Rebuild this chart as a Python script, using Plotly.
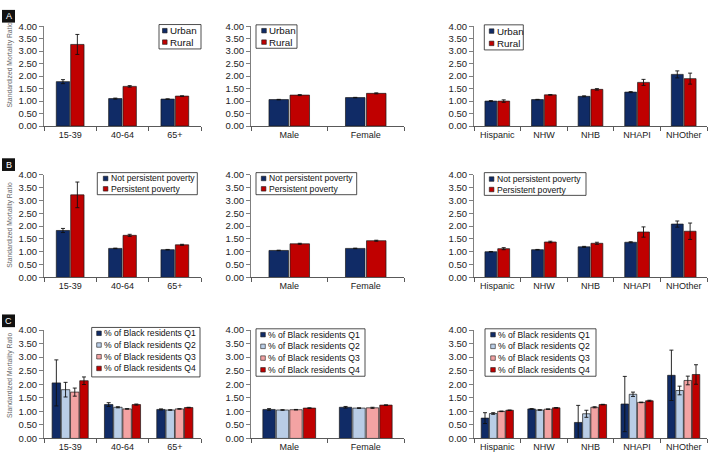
import plotly.graph_objects as go

# ---------------- data ----------------
age_cats = ["15-39", "40-64", "65+"]
sex_cats = ["Male", "Female"]
race_cats = ["Hispanic", "NHW", "NHB", "NHAPI", "NHOther"]

# Row A: Urban / Rural
a_age_urban = [1.78, 1.10, 1.08]
a_age_urban_err = [0.08, 0.02, 0.01]
a_age_rural = [3.27, 1.59, 1.20]
a_age_rural_err = [0.40, 0.03, 0.01]
a_sex_urban = [1.06, 1.14]
a_sex_urban_err = [0.01, 0.01]
a_sex_rural = [1.24, 1.31]
a_sex_rural_err = [0.02, 0.02]
a_race_urban = [1.00, 1.06, 1.19, 1.36, 2.07]
a_race_urban_err = [0.02, 0.01, 0.02, 0.02, 0.14]
a_race_rural = [1.00, 1.25, 1.47, 1.75, 1.90]
a_race_rural_err = [0.05, 0.01, 0.03, 0.12, 0.22]

# Row B: Not persistent / Persistent poverty
b_age_npp = [1.83, 1.13, 1.08]
b_age_npp_err = [0.08, 0.01, 0.01]
b_age_pp = [3.22, 1.64, 1.27]
b_age_pp_err = [0.50, 0.04, 0.02]
b_sex_npp = [1.05, 1.13]
b_sex_npp_err = [0.01, 0.01]
b_sex_pp = [1.31, 1.43]
b_sex_pp_err = [0.02, 0.02]
b_race_npp = [1.00, 1.08, 1.19, 1.37, 2.08]
b_race_npp_err = [0.01, 0.01, 0.02, 0.02, 0.12]
b_race_pp = [1.12, 1.38, 1.33, 1.77, 1.80]
b_race_pp_err = [0.04, 0.03, 0.04, 0.20, 0.32]

# Row C: % of Black residents quartiles
c_age_q1 = [2.05, 1.25, 1.07]
c_age_q1_err = [0.85, 0.07, 0.02]
c_age_q2 = [1.80, 1.15, 1.05]
c_age_q2_err = [0.27, 0.02, 0.01]
c_age_q3 = [1.71, 1.09, 1.09]
c_age_q3_err = [0.15, 0.01, 0.01]
c_age_q4 = [2.13, 1.25, 1.14]
c_age_q4_err = [0.14, 0.02, 0.01]
c_sex_q1 = [1.07, 1.15]
c_sex_q1_err = [0.03, 0.03]
c_sex_q2 = [1.05, 1.12]
c_sex_q2_err = [0.01, 0.01]
c_sex_q3 = [1.06, 1.13]
c_sex_q3_err = [0.01, 0.02]
c_sex_q4 = [1.12, 1.23]
c_sex_q4_err = [0.01, 0.01]
c_race_q1 = [0.75, 1.09, 0.59, 1.27, 2.33]
c_race_q1_err = [0.20, 0.01, 0.63, 1.02, 0.93]
c_race_q2 = [0.92, 1.05, 0.91, 1.63, 1.77]
c_race_q2_err = [0.03, 0.01, 0.13, 0.08, 0.16]
c_race_q3 = [1.00, 1.08, 1.15, 1.33, 2.14]
c_race_q3_err = [0.01, 0.01, 0.02, 0.01, 0.16]
c_race_q4 = [1.04, 1.13, 1.25, 1.39, 2.36]
c_race_q4_err = [0.01, 0.01, 0.01, 0.02, 0.36]

y_title = "Standardized Mortality Ratio"
row_labels = ["A", "B", "C"]

# ---------------- styles ----------------
W, H = 709, 461
NAVY = "#102B66"
RED = "#C00000"
LBLUE = "#B9CDE6"
PINK = "#F3A3A3"
FONT = "Liberation Sans, Arial, sans-serif"

def xp(px):
    return px / W

def yp(py):
    return 1 - py / H

cols_x = [(44, 201), (251, 404), (474, 707)]
rows_y = [(20.7, 123), (173, 278), (332, 443)]

names_a = ["Urban", "Rural"]
names_b = ["Not persistent poverty", "Persistent poverty"]
names_c = ["% of Black residents Q1", "% of Black residents Q2",
           "% of Black residents Q3", "% of Black residents Q4"]
cols2 = [NAVY, RED]
cols4 = [NAVY, LBLUE, PINK, RED]

panels = [
    (0, 0, age_cats, names_a, cols2, [(a_age_urban, a_age_urban_err), (a_age_rural, a_age_rural_err)]),
    (0, 1, sex_cats, names_a, cols2, [(a_sex_urban, a_sex_urban_err), (a_sex_rural, a_sex_rural_err)]),
    (0, 2, race_cats, names_a, cols2, [(a_race_urban, a_race_urban_err), (a_race_rural, a_race_rural_err)]),
    (1, 0, age_cats, names_b, cols2, [(b_age_npp, b_age_npp_err), (b_age_pp, b_age_pp_err)]),
    (1, 1, sex_cats, names_b, cols2, [(b_sex_npp, b_sex_npp_err), (b_sex_pp, b_sex_pp_err)]),
    (1, 2, race_cats, names_b, cols2, [(b_race_npp, b_race_npp_err), (b_race_pp, b_race_pp_err)]),
    (2, 0, age_cats, names_c, cols4, [(c_age_q1, c_age_q1_err), (c_age_q2, c_age_q2_err),
                                      (c_age_q3, c_age_q3_err), (c_age_q4, c_age_q4_err)]),
    (2, 1, sex_cats, names_c, cols4, [(c_sex_q1, c_sex_q1_err), (c_sex_q2, c_sex_q2_err),
                                      (c_sex_q3, c_sex_q3_err), (c_sex_q4, c_sex_q4_err)]),
    (2, 2, race_cats, names_c, cols4, [(c_race_q1, c_race_q1_err), (c_race_q2, c_race_q2_err),
                                       (c_race_q3, c_race_q3_err), (c_race_q4, c_race_q4_err)]),
]

# legend layout (pixels): box x0,x1,y0,y1 ; marker x ; text x ; row centres ; font size
legends = [
    ((159, 201, 19, 44), 162.5, 167.5, [25.3, 37.0], 9.8),
    ((256, 297, 19.3, 43.3), 261.7, 267.0, [25.3, 37.0], 9.8),
    ((484.3, 523.3, 19.3, 45), 489.3, 494.8, [25.7, 38.3], 9.8),
    ((97.3, 197.3, 170.7, 193.3), 103.3, 108.6, [176.7, 187.3], 8.6),
    ((256, 356.7, 170.7, 193.3), 261.3, 266.5, [176.7, 187.3], 8.6),
    ((484.3, 586, 170.7, 194), 489.3, 494.6, [177.3, 188.0], 8.6),
    ((91.7, 200, 329.3, 380), 96.7, 102.3, [335.3, 347.3, 359.3, 371.3], 8.6),
    ((256, 365, 330.7, 379.3), 260.7, 266.2, [336.7, 348.7, 360.7, 372.7], 8.6),
    ((485, 596, 330.7, 379.3), 490.7, 496.2, [336.7, 348.7, 360.7, 372.7], 8.6),
]

fig = go.Figure()
layout = dict(
    width=W, height=H, margin=dict(l=0, r=0, t=0, b=0),
    paper_bgcolor="white", plot_bgcolor="white",
    showlegend=False, barmode="overlay",
    font=dict(family=FONT, size=9, color="#222"),
)
shapes = []
annotations = []

for i, (r, c, cats, names, colors, series) in enumerate(panels):
    k = i + 1
    xa = "x" if k == 1 else f"x{k}"
    ya = "y" if k == 1 else f"y{k}"
    n = len(series)
    if n == 2:
        slot, w = 0.275, 0.255
    else:
        slot, w = 0.176, 0.162
    for j, ((vals, err), name, col) in enumerate(zip(series, names, colors)):
        off = -n / 2 * slot + j * slot + (slot - w) / 2
        fig.add_trace(go.Bar(
            x=cats, y=vals, name=name, xaxis=xa, yaxis=ya,
            width=w, offset=off,
            marker=dict(color=col, line=dict(color="#1a1a1a", width=0.7)),
            error_y=dict(type="data", array=err, arrayminus=err, visible=True,
                         color="#111", thickness=0.9, width=2),
        ))
    x0, x1 = cols_x[c]
    y0, y1 = rows_y[r]
    layout["xaxis" if k == 1 else f"xaxis{k}"] = dict(
        domain=[xp(x0), xp(x1)], anchor=ya, type="category",
        range=[-0.5, len(cats) - 0.5], showline=True, linecolor="#595959", linewidth=1,
        ticks="outside", tickson="boundaries", ticklen=4, tickcolor="#595959",
        showgrid=False, zeroline=False, fixedrange=True,
        tickfont=dict(family=FONT, size=9, color="#222"),
    )
    layout["yaxis" if k == 1 else f"yaxis{k}"] = dict(
        domain=[yp(y1), yp(y0)], anchor=xa, range=[0, 4], dtick=0.5,
        tickformat=".2f", showline=True, linecolor="#7f7f7f", linewidth=1,
        ticks="outside", ticklen=4, tickcolor="#7f7f7f",
        showgrid=False, zeroline=False, fixedrange=True,
        tickfont=dict(family=FONT, size=9.5, color="#222"),
    )

    # manual legend
    (bx0, bx1, by0, by1), mx, tx, rows, fs = legends[i]
    shapes.append(dict(type="rect", xref="paper", yref="paper",
                       x0=xp(bx0), x1=xp(bx1), y0=yp(by1), y1=yp(by0),
                       line=dict(color="#222", width=0.8), fillcolor="white", layer="above"))
    for name, col, ry in zip(names, colors, rows):
        s = 4.6
        shapes.append(dict(type="rect", xref="paper", yref="paper",
                           x0=xp(mx), x1=xp(mx + s), y0=yp(ry + s / 2), y1=yp(ry - s / 2),
                           line=dict(color="#1a1a1a", width=0.6), fillcolor=col, layer="above"))
        annotations.append(dict(text=name, xref="paper", yref="paper",
                                x=xp(tx), y=yp(ry), xanchor="left", yanchor="middle",
                                showarrow=False, font=dict(family=FONT, size=fs, color="#111")))

# y-axis titles (one per row)
for ycen in [60, 224, 378]:
    annotations.append(dict(text=y_title, xref="paper", yref="paper", x=xp(10), y=yp(ycen),
                            xanchor="center", yanchor="middle", textangle=-90, showarrow=False,
                            font=dict(family=FONT, size=6.8, color="#666")))

# row letters in black boxes
for lab, (t, b) in zip(row_labels, [(4, 17), (156, 169), (316, 329)]):
    shapes.append(dict(type="rect", xref="paper", yref="paper",
                       x0=xp(2), x1=xp(15), y0=yp(b), y1=yp(t),
                       line=dict(width=0), fillcolor="#111", layer="below"))
    annotations.append(dict(text=lab, xref="paper", yref="paper", x=xp(8.5), y=yp((t + b) / 2),
                            xanchor="center", yanchor="middle", showarrow=False,
                            font=dict(family=FONT, size=9, color="white")))

layout["shapes"] = shapes
layout["annotations"] = annotations
fig.update_layout(**layout)
fig.write_html("out.html")
